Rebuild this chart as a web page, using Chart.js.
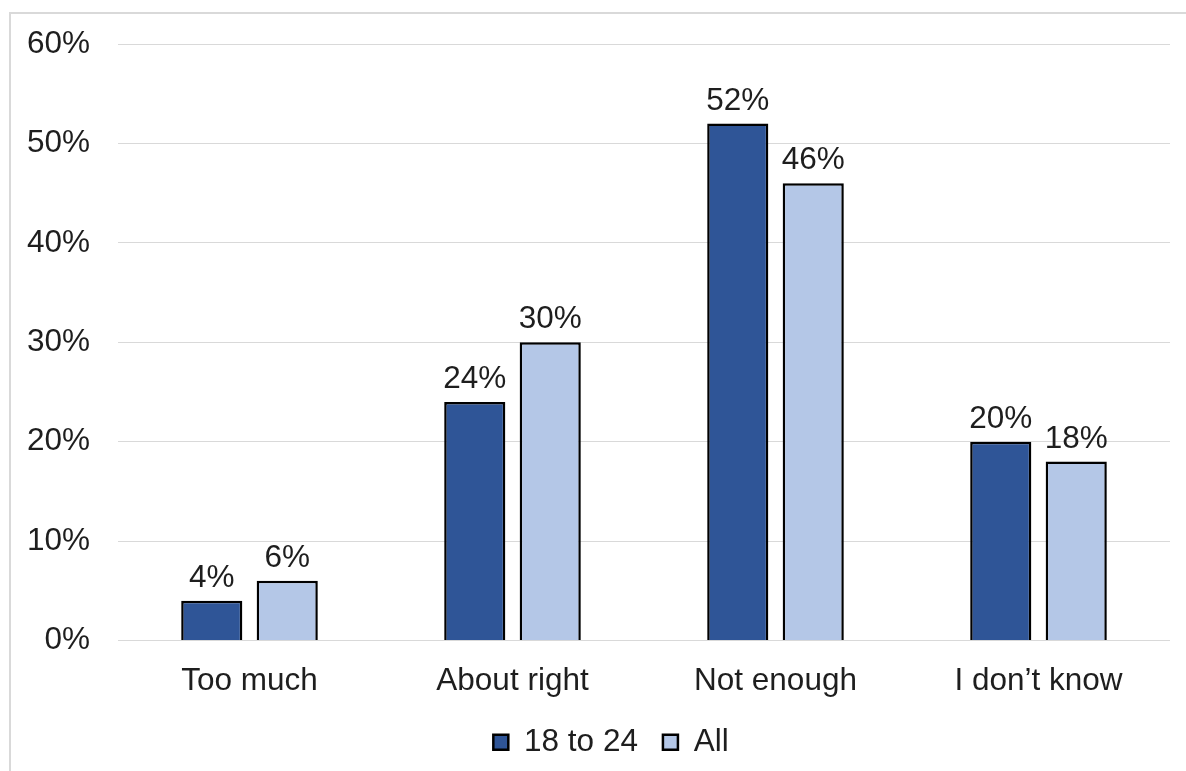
<!DOCTYPE html>
<html>
<head>
<meta charset="utf-8">
<script src="https://cdn.jsdelivr.net/npm/chart.js@4/dist/chart.umd.min.js"></script>
<style>
  html, body { margin: 0; padding: 0; background: #ffffff; }
  #wrap { width: 1186px; height: 771px; position: relative; }
</style>
</head>
<body>
<div id="wrap"><canvas id="c" width="1186" height="771"></canvas></div>
<script>
// Survey responses by answer, young adults vs everyone
const categories = ['Too much', 'About right', 'Not enough', 'I don\u2019t know'];
const youngValues = [4, 24, 52, 20];
const allValues = [6, 30, 46, 18];
const seriesNames = ['18 to 24', 'All'];
const yTicks = [0, 10, 20, 30, 40, 50, 60];

const FONT = '"Liberation Sans", Arial, sans-serif';
const SIZE = 31.5;
const TEXT = '#1e1e1e';

// Thin grey frame along the top and left edges
const framePlugin = {
  id: 'frame',
  beforeDraw(chart) {
    const ctx = chart.ctx;
    ctx.save();
    ctx.fillStyle = '#ffffff';
    ctx.fillRect(0, 0, chart.width, chart.height);
    ctx.strokeStyle = '#d9d9d9';
    ctx.lineWidth = 2;
    ctx.beginPath();
    ctx.moveTo(10, chart.height);
    ctx.lineTo(10, 13);
    ctx.lineTo(chart.width, 13);
    ctx.stroke();
    ctx.restore();
  }
};

// Centre the legend a little right of the canvas middle
const legendShift = {
  id: 'legendShift',
  afterLayout(chart) {
    if (chart.legend) {
      chart.legend.left += 26;
      chart.legend.right += 26;
    }
  }
};

// Percentage labels above each bar
const valueLabels = {
  id: 'valueLabels',
  afterDatasetsDraw(chart) {
    const ctx = chart.ctx;
    ctx.save();
    ctx.font = SIZE + 'px ' + FONT;
    ctx.fillStyle = TEXT;
    ctx.textAlign = 'center';
    ctx.textBaseline = 'alphabetic';
    chart.data.datasets.forEach((ds, i) => {
      const meta = chart.getDatasetMeta(i);
      meta.data.forEach((bar, j) => {
        ctx.fillText(ds.data[j] + '%', bar.x, bar.y - 14);
      });
    });
    ctx.restore();
  }
};

new Chart(document.getElementById('c'), {
  type: 'bar',
  data: {
    labels: categories,
    datasets: [
      {
        label: seriesNames[0],
        data: youngValues,
        backgroundColor: '#2f5597',
        borderColor: '#000000',
        borderWidth: 2.5,
        categoryPercentage: 0.574,
        barPercentage: 0.81
      },
      {
        label: seriesNames[1],
        data: allValues,
        backgroundColor: '#b4c7e7',
        borderColor: '#000000',
        borderWidth: 2.5,
        categoryPercentage: 0.574,
        barPercentage: 0.81
      }
    ]
  },
  options: {
    responsive: false,
    animation: false,
    devicePixelRatio: 1,
    layout: { padding: { left: 0, right: 16, top: 44, bottom: 3 } },
    plugins: {
      tooltip: { enabled: false },
      legend: {
        position: 'bottom',
        labels: {
          font: { family: FONT, size: SIZE },
          color: TEXT,
          boxWidth: 15,
          boxHeight: 15,
          padding: 25
        }
      }
    },
    scales: {
      x: {
        grid: { display: false, drawTicks: false },
        border: { display: false },
        ticks: {
          font: { family: FONT, size: SIZE },
          color: TEXT,
          padding: 22,
          maxRotation: 0
        },
        afterFit(scale) { scale.height = 61; }
      },
      y: {
        min: 0,
        max: 60,
        afterBuildTicks(scale) { scale.ticks = yTicks.map(v => ({ value: v })); },
        grid: { color: '#d9d9d9', lineWidth: 1, drawTicks: false },
        border: { display: false },
        ticks: {
          font: { family: FONT, size: SIZE },
          color: TEXT,
          padding: 28,
          callback: v => v + '%'
        },
        afterFit(scale) {
          scale.width = 118;
          scale.paddingTop = 0;
          scale.paddingBottom = 0;
        }
      }
    }
  },
  plugins: [framePlugin, legendShift, valueLabels]
});
</script>
</body>
</html>
